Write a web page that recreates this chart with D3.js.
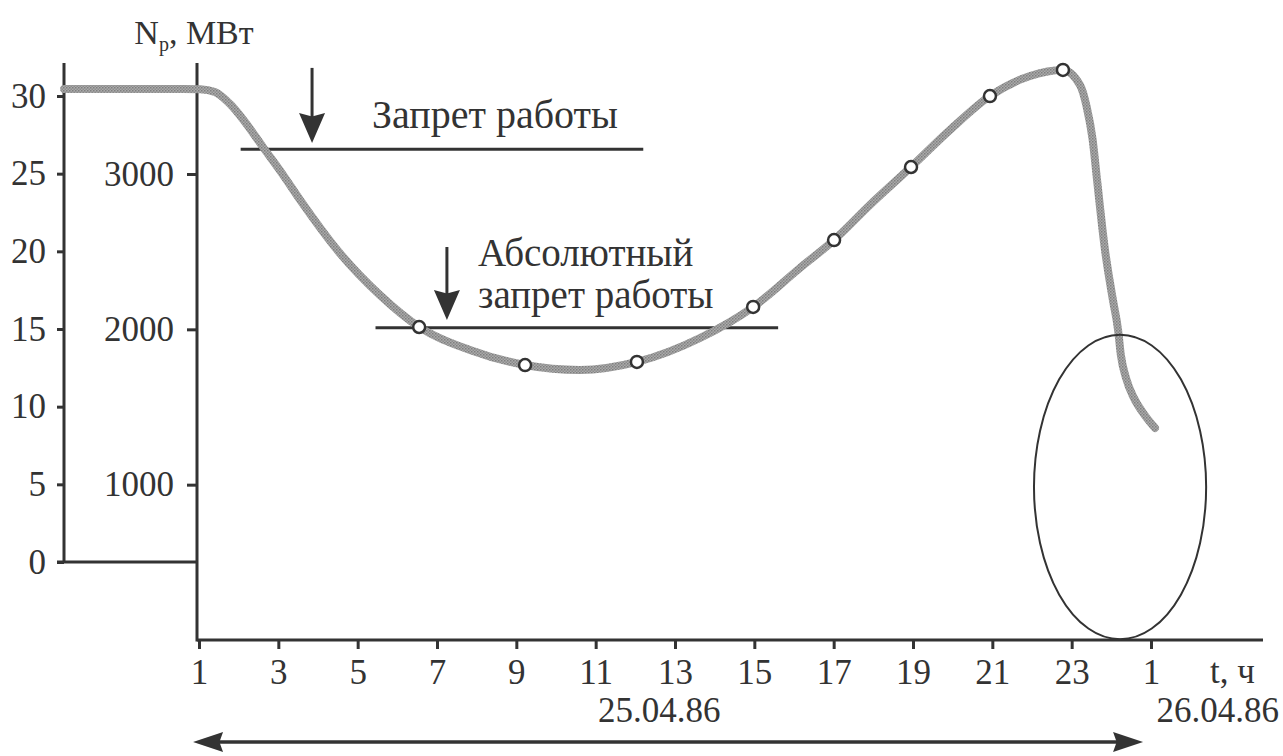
<!DOCTYPE html>
<html>
<head>
<meta charset="utf-8">
<script src="https://cdn.jsdelivr.net/npm/d3@7"></script>
<style>
  html, body { margin: 0; padding: 0; background: #fff; }
  svg { display: block; }
  text { font-family: "Liberation Serif", "DejaVu Serif", serif; fill: #333; }
</style>
</head>
<body>
<svg id="chart" width="1283" height="756"></svg>
<script>
// ---- data ----
const hourTicks = [1, 3, 5, 7, 9, 11, 13, 15, 17, 19, 21, 23, 25];
const outerTicks = [0, 5, 10, 15, 20, 25, 30];
const innerTicks = [1000, 2000, 3000];
// reactor thermal power curve: hours since 0:00 25.04.86, MW
const curveHours = [-2.40, 0.6, 1.03, 1.40, 1.78, 2.16, 2.61, 3.12, 3.55, 4.55, 5.56, 6.55, 7.83, 9.22, 10.60, 12.04, 13.63, 14.97, 16.15, 17.01, 17.91, 18.95, 19.93, 20.94, 21.95, 22.78, 23.21, 23.38, 23.53, 23.64, 23.84, 24.04, 24.17, 24.24, 24.37, 24.57, 24.82, 25.10];
const curvePower = [3547, 3547, 3545, 3528, 3451, 3335, 3174, 2994, 2833, 2491, 2221, 2015, 1867, 1770, 1738, 1790, 1944, 2144, 2395, 2575, 2800, 3045, 3283, 3502, 3631, 3670, 3573, 3431, 3219, 2961, 2511, 2189, 1996, 1835, 1687, 1558, 1455, 1365];
// measured points (markers)
const markerHours = [6.55, 9.22, 12.04, 14.97, 17.01, 18.95, 20.94, 22.78];
const markerPower = [2015, 1770, 1790, 2144, 2575, 3045, 3502, 3670];
// limits
const limitNames = ["Запрет работы", "Абсолютный", "запрет работы"];
const limitPower = [3160, 2010];
const limitFrom = [2.05, 5.45];
const limitTo = [12.2, 15.6];
const arrowHour = [3.85, 7.25];
const arrowTopPower = [3683, 2530];
const arrowTipPower = [3200, 2060];
// highlighted region
const ellipseHour = 24.22, ellipsePower = 985, ellipseHalfHours = 2.17, ellipseHalfPower = 980;
// date span
const spanHours = [0.85, 24.8];
const dateLabels = ["25.04.86", "26.04.86"];

// ---- layout ----
const svg = d3.select("#chart");
const x = d3.scaleLinear().domain([1, 25]).range([199, 1151]);
const yIn = d3.scaleLinear().domain([0, 3000]).range([640, 174]);
const yOut = d3.scaleLinear().domain([0, 30]).range([562, 96]);
const outerX = 64, innerX = 197, axisTop = 63, axisRight = 1263;
const ink = "#333";
const tickFont = "35px";

// defs: textured stroke
const defs = svg.append("defs");
const pat = defs.append("pattern").attr("id", "grain").attr("patternUnits", "userSpaceOnUse")
  .attr("width", 3).attr("height", 3);
pat.append("rect").attr("width", 3).attr("height", 3).attr("fill", "#ababab");
pat.append("rect").attr("width", 1.5).attr("height", 1.5).attr("fill", "#7e7e7e");
pat.append("rect").attr("x", 1.5).attr("y", 1.5).attr("width", 1.5).attr("height", 1.5).attr("fill", "#8c8c8c");

// arrowhead helper: tip at (tx,ty), pointing in direction (dx,dy)
function head(tx, ty, dx, dy, len, half) {
  const px = -dy, py = dx;
  const bx = tx - dx * len, by = ty - dy * len;
  const nx = tx - dx * len * 0.88, ny = ty - dy * len * 0.88;
  return `M${tx},${ty} L${bx + px * half},${by + py * half} L${nx},${ny} L${bx - px * half},${by - py * half} Z`;
}

// outer axis (left)
const gOut = svg.append("g").attr("transform", `translate(${outerX},0)`)
  .call(d3.axisLeft(yOut).tickValues(outerTicks).tickSize(7).tickPadding(11).tickSizeOuter(0));
gOut.select(".domain").remove();
gOut.append("line").attr("x1", 0).attr("x2", 0).attr("y1", yOut(0)).attr("y2", axisTop)
  .attr("stroke", ink).attr("stroke-width", 3);
// outer baseline
svg.append("line").attr("x1", outerX - 7).attr("x2", innerX).attr("y1", yOut(0)).attr("y2", yOut(0))
  .attr("stroke", ink).attr("stroke-width", 3);

// inner axis
const gIn = svg.append("g").attr("transform", `translate(${innerX},0)`)
  .call(d3.axisLeft(yIn).tickValues(innerTicks).tickSize(10).tickPadding(13).tickSizeOuter(0)
    .tickFormat(d3.format("d")));
gIn.select(".domain").remove();
gIn.append("line").attr("x1", 0).attr("x2", 0).attr("y1", yIn(0) + 1.5).attr("y2", axisTop)
  .attr("stroke", ink).attr("stroke-width", 3);

// bottom axis
const gX = svg.append("g").attr("transform", `translate(0,${yIn(0)})`)
  .call(d3.axisBottom(x).tickValues(hourTicks).tickSize(9).tickPadding(10).tickSizeOuter(0)
    .tickFormat(d => d > 24 ? d - 24 : d));
gX.select(".domain").remove();
gX.append("line").attr("x1", innerX).attr("x2", axisRight).attr("y1", 0).attr("y2", 0)
  .attr("stroke", ink).attr("stroke-width", 3);

[gOut, gIn, gX].forEach(g => {
  g.selectAll(".tick line").attr("stroke", ink).attr("stroke-width", 3);
  g.selectAll(".tick text").style("font-size", tickFont).attr("fill", ink)
    .style("font-family", '"Liberation Serif", serif');
});

// axis titles
const yt = svg.append("text").attr("x", innerX - 3).attr("y", 44).attr("text-anchor", "middle")
  .style("font-size", "34px");
yt.append("tspan").text("N");
yt.append("tspan").attr("dy", 7).style("font-size", "20px").text("р");
yt.append("tspan").attr("dy", -7).text(", МВт");
svg.append("text").attr("x", 1210).attr("y", 683).style("font-size", "35px").text("t, ч");

// limit lines
limitPower.forEach((p, i) => {
  svg.append("line").attr("x1", x(limitFrom[i])).attr("x2", x(limitTo[i]))
    .attr("y1", yIn(p)).attr("y2", yIn(p)).attr("stroke", ink).attr("stroke-width", 3);
  const ax = x(arrowHour[i]), tipY = yIn(arrowTipPower[i]);
  svg.append("line").attr("x1", ax).attr("x2", ax)
    .attr("y1", yIn(arrowTopPower[i])).attr("y2", tipY - 22)
    .attr("stroke", ink).attr("stroke-width", 3);
  svg.append("path").attr("d", head(ax, tipY, 0, 1, 30, 13)).attr("fill", ink);
});
svg.append("text").attr("x", 372).attr("y", 128).style("font-size", "40px").text(limitNames[0]);
svg.append("text").attr("x", 478).attr("y", 266).style("font-size", "39px").text(limitNames[1]);
svg.append("text").attr("x", 478).attr("y", 308).style("font-size", "39px").text(limitNames[2]);

// curve
const pts = curveHours.map((h, i) => [x(h), yIn(curvePower[i])]);
svg.append("path").attr("d", d3.line().curve(d3.curveMonotoneX)(pts))
  .attr("fill", "none").attr("stroke", "url(#grain)").attr("stroke-width", 8)
  .attr("stroke-linecap", "round");

// markers
svg.selectAll("circle.m").data(markerHours).join("circle").attr("class", "m")
  .attr("cx", d => x(d)).attr("cy", (d, i) => yIn(markerPower[i])).attr("r", 6)
  .attr("fill", "#fff").attr("stroke", ink).attr("stroke-width", 2.5);

// ellipse
svg.append("ellipse").attr("cx", x(ellipseHour)).attr("cy", yIn(ellipsePower))
  .attr("rx", x(ellipseHour + ellipseHalfHours) - x(ellipseHour))
  .attr("ry", yIn(0) - yIn(ellipseHalfPower))
  .attr("fill", "none").attr("stroke", ink).attr("stroke-width", 2);

// date span
const sx0 = x(spanHours[0]), sx1 = x(spanHours[1]), sy = 742;
svg.append("line").attr("x1", sx0 + 22).attr("x2", sx1 - 22).attr("y1", sy).attr("y2", sy)
  .attr("stroke", ink).attr("stroke-width", 3.5);
svg.append("path").attr("d", head(sx0, sy, -1, 0, 30, 10)).attr("fill", ink);
svg.append("path").attr("d", head(sx1, sy, 1, 0, 30, 10)).attr("fill", ink);
svg.append("text").attr("x", x(12.6)).attr("y", 722).attr("text-anchor", "middle")
  .style("font-size", "35px").text(dateLabels[0]);
svg.append("text").attr("x", 1279).attr("y", 722).attr("text-anchor", "end")
  .style("font-size", "35px").text(dateLabels[1]);
</script>
</body>
</html>
